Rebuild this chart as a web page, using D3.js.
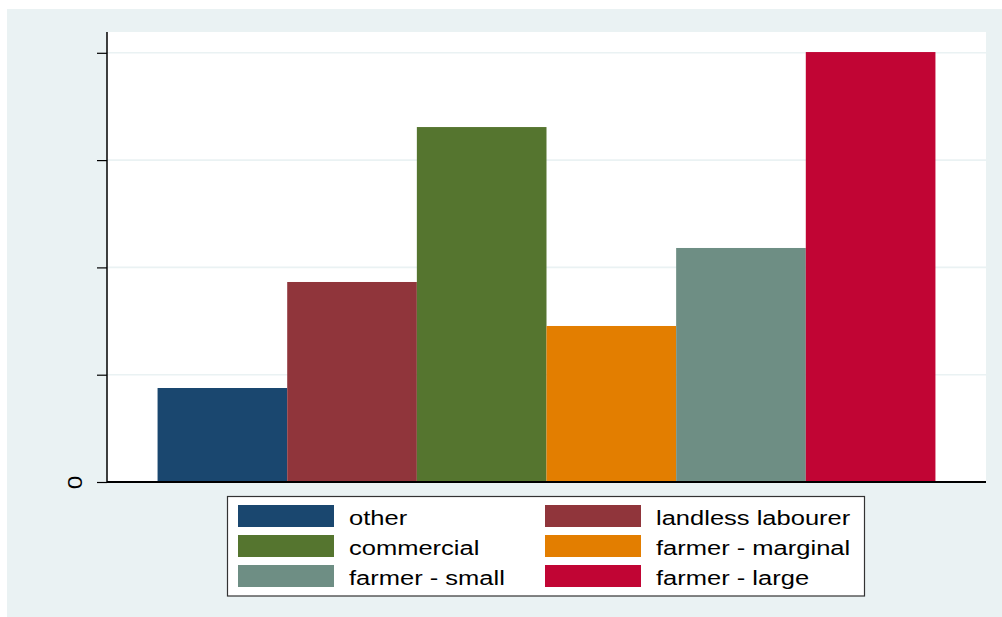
<!DOCTYPE html>
<html>
<head>
<meta charset="utf-8">
<script src="https://cdn.jsdelivr.net/npm/d3@7"></script>
<style>
html,body{margin:0;padding:0;background:#fff;}
svg{display:block;}
text{font-family:"Liberation Sans",Arial,Helvetica,sans-serif;fill:#000;}
</style>
</head>
<body>
<svg id="chart" width="1002" height="617"></svg>
<script>
const categories = ["other","landless labourer","commercial","farmer - marginal","farmer - small","farmer - large"];
const values = [0.876, 1.864, 3.308, 1.454, 2.181, 4.007];
const colors = ["#1a476f","#90353b","#55752f","#e37e00","#6e8e84","#c10534"];
const yTicks = [0, 1, 2, 3, 4];
const yTickLabels = ["0", "", "", "", ""];

const svg = d3.select("#chart");
const W = 1002, H = 617;
const plot = {left:107, right:986, top:32, bottom:482};
const sx = 1.215;

svg.append("rect").attr("x",7).attr("y",9).attr("width",W-7).attr("height",H-9).attr("fill","#eaf2f3");
svg.append("rect").attr("x",plot.left).attr("y",plot.top)
  .attr("width",plot.right-plot.left).attr("height",plot.bottom-plot.top).attr("fill","#fff");

const y = d3.scaleLinear().domain([0,4]).range([plot.bottom, plot.bottom - 4*107.3]);
const x = d3.scaleBand().domain(categories).range([plot.left, plot.right])
  .paddingInner(0).paddingOuter(0.39);

// gridlines
svg.append("g").selectAll("line").data(yTicks.filter(d=>d>0)).join("line")
  .attr("x1",plot.left).attr("x2",plot.right)
  .attr("y1",d=>y(d)).attr("y2",d=>y(d))
  .attr("stroke","#eaf2f3").attr("stroke-width",1.6);

// bars
svg.append("g").selectAll("rect").data(categories).join("rect")
  .attr("x",d=>x(d)).attr("width",x.bandwidth())
  .attr("y",(d,i)=>y(values[i])).attr("height",(d,i)=>y(0)-y(values[i]))
  .attr("fill",(d,i)=>colors[i]);

// y axis
const yAxis = d3.axisLeft(y).tickValues(yTicks).tickFormat((d,i)=>yTickLabels[i]).tickSize(10).tickPadding(12);
const gy = svg.append("g").attr("transform",`translate(${plot.left},0)`).call(yAxis);
gy.select(".domain").attr("stroke","#000").attr("stroke-width",1.5)
  .attr("d",`M0,${plot.top}V${plot.bottom}`);
gy.selectAll(".tick line").attr("stroke","#000").attr("stroke-width",1.2);
gy.selectAll(".tick text")
  .attr("font-size",20).attr("text-anchor","middle").attr("dy",null)
  .attr("x",0).attr("y",0).attr("dominant-baseline","middle")
  .attr("transform",`translate(-30,0) rotate(-90) scale(${sx},1)`);

// x baseline
svg.append("line").attr("x1",plot.left).attr("x2",plot.right)
  .attr("y1",y(0)).attr("y2",y(0)).attr("stroke","#000").attr("stroke-width",2);

// legend
const lg = svg.append("g");
lg.append("rect").attr("x",227.5).attr("y",496.5).attr("width",637).attr("height",99.5)
  .attr("fill","#fff").attr("stroke","#333").attr("stroke-width",1.2);
const colX = [238, 545];
const textX = [349, 656];
const rowY = [505, 535, 565];
categories.forEach((c,i)=>{
  const col = i%2, row = Math.floor(i/2);
  lg.append("rect").attr("x",colX[col]).attr("y",rowY[row]).attr("width",96).attr("height",22)
    .attr("fill",colors[i]);
  lg.append("text").attr("transform",`translate(${textX[col]},${rowY[row]+19.5}) scale(${sx},1)`)
    .attr("font-size",21).text(c);
});
</script>
</body>
</html>
